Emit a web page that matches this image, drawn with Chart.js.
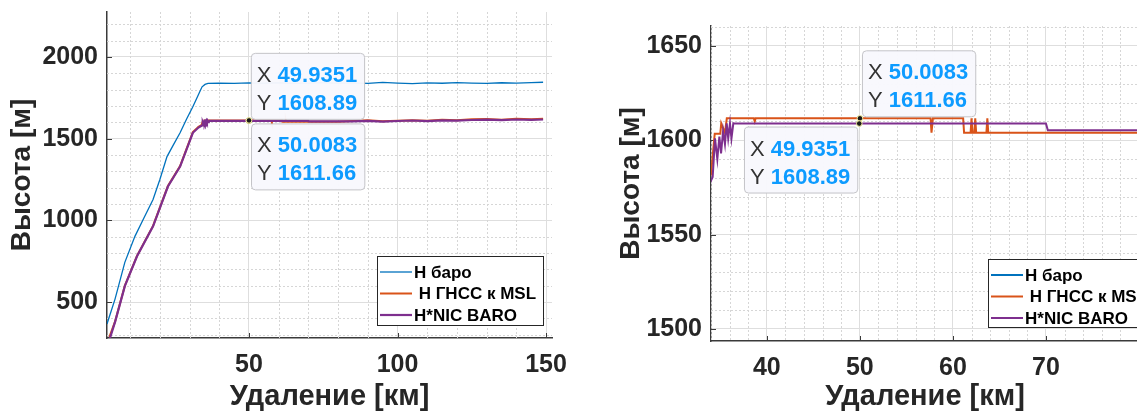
<!DOCTYPE html>
<html>
<head>
<meta charset="utf-8">
<script src="https://cdn.jsdelivr.net/npm/chart.js@4.4.0/dist/chart.umd.min.js"></script>
<style>
  html, body { margin: 0; padding: 0; background: #fff; overflow: hidden; width: 1137px; height: 414px; }
  .wrap { position: absolute; top: 0; height: 414px; }
  #leftWrap { left: 0; width: 575px; }
  #rightWrap { left: 600px; width: 560px; }
</style>
</head>
<body>
<div class="wrap" id="leftWrap"><canvas id="leftChart" width="575" height="414"></canvas></div>
<div class="wrap" id="rightWrap"><canvas id="rightChart" width="560" height="414"></canvas></div>
<script>
// --- data ---
const seriesLabels = ['H баро', ' H ГНСС к MSL', 'H*NIC BARO'];

const baroDist = [2.2, 4.9, 8.2, 11.6, 14.5, 17.7, 20, 22.4, 24.5, 26.8, 29, 31.1, 33, 34.2, 35.2, 36.2, 40, 45, 50, 55, 60, 65, 70, 75, 80, 85, 90, 95, 100, 105, 110, 115, 120, 125, 130, 135, 140, 145, 149];
const baroAlt = [366, 518, 743, 902, 1010, 1128, 1250, 1390, 1460, 1536, 1620, 1695, 1770, 1817, 1832, 1838, 1840, 1838, 1841, 1839, 1842, 1838, 1840, 1843, 1839, 1841, 1838, 1844, 1840, 1837, 1841, 1839, 1843, 1840, 1838, 1842, 1840, 1843, 1845];

const gnssDist = [3.0, 4.9, 8.2, 12.3, 17.7, 22.7, 26.8, 31.1, 33.0, 34.0, 34.4, 35.0, 35.1, 35.5, 35.7, 38.6, 38.7, 38.8, 57.6, 57.7, 57.85, 61.1, 61.2, 61.9, 62.0, 62.1, 62.3, 62.4, 62.5, 63.6, 63.7, 63.8, 80, 85, 90, 95, 100, 105, 110, 115, 120, 125, 130, 135, 140, 145, 149];
const gnssAlt = [285, 380, 600, 783, 966, 1210, 1332, 1540, 1572, 1582, 1603.5, 1603.5, 1609, 1604, 1611.66, 1611.66, 1610, 1611.66, 1611.66, 1604, 1611.66, 1611.66, 1604, 1604, 1611.66, 1604, 1604, 1611.66, 1604, 1604, 1611.66, 1604, 1604, 1608, 1612, 1606, 1610, 1613, 1609, 1615, 1612, 1618, 1620, 1616, 1622, 1619, 1621];

const nicDist = [3.2, 4.9, 8.2, 12.3, 17.7, 22.7, 26.8, 31.1, 33.0, 34.18, 34.43, 34.68, 34.9, 35.08, 35.3, 35.5, 35.69, 35.85, 36.04, 36.2, 36.4, 36.5, 70.0, 70.2, 80, 85, 90, 95, 100, 105, 110, 115, 120, 125, 130, 135, 140, 145, 149];
const nicAlt = [280, 377, 597, 780, 963, 1207, 1329, 1536, 1568, 1580.6, 1601, 1590, 1602, 1593, 1605, 1598, 1609, 1601, 1609, 1601, 1609, 1608.89, 1608.89, 1605.3, 1605.3, 1606, 1609, 1604, 1608, 1611, 1607, 1612, 1610, 1614, 1616, 1613, 1617, 1615, 1617];

const leftXTicks = [50, 100, 150];
const leftYTicks = [500, 1000, 1500, 2000];
const rightXTicks = [40, 50, 60, 70];
const rightYTicks = [1500, 1550, 1600, 1650];

const tipX = [49.9351, 50.0083];
const tipY = [1608.89, 1611.66];

// --- styles ---
const axisColor = '#262626';
const fontFamily = '"Liberation Sans", Arial, sans-serif';
const colors = ['#0072BD', '#D95319', '#7E2F8E'];

const toPoints = (xs, ys) => xs.map((x, i) => ({ x: x, y: ys[i] }));

const minorGrid = {
    id: 'minorGrid',
    beforeDatasetsDraw(chart, args, opts) {
        const { ctx, chartArea: a, scales: { x, y } } = chart;
        ctx.save();
        ctx.strokeStyle = '#d6d6d6';
        ctx.lineWidth = 1;
        ctx.setLineDash([2, 2]);
        ctx.beginPath();
        for (let i = Math.ceil(x.min / opts.xStep); i * opts.xStep <= x.max; i++) {
            if (i % opts.xEvery === 0) continue;
            const px = Math.round(x.getPixelForValue(i * opts.xStep)) + 0.5;
            ctx.moveTo(px, a.top);
            ctx.lineTo(px, a.bottom);
        }
        for (let i = Math.ceil(y.min / opts.yStep); i * opts.yStep <= y.max; i++) {
            if (i % opts.yEvery === 0) continue;
            const py = Math.round(y.getPixelForValue(i * opts.yStep)) + 0.5;
            ctx.moveTo(a.left, py);
            ctx.lineTo(a.right, py);
        }
        ctx.stroke();
        // short inward tick marks at the major ticks
        ctx.setLineDash([]);
        ctx.strokeStyle = '#3a3a3a';
        ctx.beginPath();
        x.ticks.forEach(t => {
            const px = Math.round(x.getPixelForValue(t.value)) + 0.5;
            ctx.moveTo(px, a.bottom);
            ctx.lineTo(px, a.bottom - 5);
        });
        y.ticks.forEach(t => {
            const py = Math.round(y.getPixelForValue(t.value)) + 0.5;
            ctx.moveTo(a.left, py);
            ctx.lineTo(a.left + 5, py);
        });
        ctx.stroke();
        ctx.restore();
    }
};

const boxLegend = {
    id: 'boxLegend',
    afterDatasetsDraw(chart, args, opts) {
        const { ctx } = chart;
        ctx.save();
        ctx.fillStyle = '#fff';
        ctx.fillRect(opts.x, opts.y, opts.w, opts.h);
        ctx.strokeStyle = axisColor;
        ctx.lineWidth = 1;
        ctx.strokeRect(opts.x + 0.5, opts.y + 0.5, opts.w, opts.h);
        ctx.font = 'bold 17px ' + fontFamily;
        ctx.textBaseline = 'middle';
        chart.data.datasets.forEach((ds, i) => {
            const ry = opts.y + 16 + i * 21.5;
            ctx.strokeStyle = ds.borderColor;
            ctx.lineWidth = ds.borderWidth;
            ctx.beginPath();
            ctx.moveTo(opts.x + 3, ry);
            ctx.lineTo(opts.x + 35, ry);
            ctx.stroke();
            ctx.fillStyle = '#000';
            ctx.fillText(ds.label, opts.x + 37, ry + 1);
        });
        ctx.restore();
    }
};

const dataTips = {
    id: 'dataTips',
    afterDatasetsDraw(chart, args, opts) {
        const { ctx, scales: { x, y } } = chart;
        ctx.save();
        const labelFont = '22px ' + fontFamily;
        const valueFont = 'bold 22px ' + fontFamily;
        opts.tips.forEach(t => {
            const ax = x.getPixelForValue(tipX[t.i]);
            const ay = y.getPixelForValue(tipY[t.i]);
            const lines = [['X ', String(tipX[t.i])], ['Y ', tipY[t.i].toFixed(2)]];
            let w = 0;
            lines.forEach(l => {
                ctx.font = labelFont;
                let lw = ctx.measureText(l[0]).width;
                ctx.font = valueFont;
                lw += ctx.measureText(l[1]).width;
                w = Math.max(w, lw);
            });
            w += 13;
            const h = 66;
            const bx = t.place.includes('e') ? ax + 2 : ax - 2 - w;
            const by = t.place.includes('n') ? ay - 2 - h : ay + 3;
            ctx.beginPath();
            ctx.roundRect(bx + 0.5, by + 0.5, w, h, 4);
            ctx.fillStyle = 'rgba(248,248,253,0.97)';
            ctx.fill();
            ctx.strokeStyle = '#c4c4c8';
            ctx.lineWidth = 1;
            ctx.stroke();
            ctx.textBaseline = 'alphabetic';
            lines.forEach((l, k) => {
                const ty = by + 29 + k * 28;
                ctx.font = labelFont;
                ctx.fillStyle = '#333';
                ctx.fillText(l[0], bx + 6, ty);
                const lw = ctx.measureText(l[0]).width;
                ctx.font = valueFont;
                ctx.fillStyle = '#0d9bff';
                ctx.fillText(l[1], bx + 6 + lw, ty);
            });
        });
        opts.tips.forEach(t => {
            const ax = x.getPixelForValue(tipX[t.i]);
            const ay = y.getPixelForValue(tipY[t.i]);
            ctx.beginPath();
            ctx.arc(ax, ay, 2.8, 0, Math.PI * 2);
            ctx.fillStyle = '#1a1a1a';
            ctx.fill();
            ctx.strokeStyle = '#f5f0a0';
            ctx.lineWidth = 1;
            ctx.stroke();
        });
        ctx.restore();
    }
};

const makeDatasets = (widths) => [
    { label: seriesLabels[0], data: toPoints(baroDist, baroAlt), borderColor: colors[0], borderWidth: widths[0], order: 2 },
    { label: seriesLabels[1], data: toPoints(gnssDist, gnssAlt), borderColor: colors[1], borderWidth: widths[1], order: 1 },
    { label: seriesLabels[2], data: toPoints(nicDist, nicAlt), borderColor: colors[2], borderWidth: widths[2], order: 0 }
];

const tickFont = { family: fontFamily, size: 25, weight: 'bold' };
const titleFont = { family: fontFamily, size: 29, weight: 'bold' };

const makeScales = (o) => ({
    x: {
        type: 'linear',
        min: o.xMin,
        max: o.xMax,
        afterFit: (s) => { s.height = o.xAxisH; s.paddingLeft = 0; s.paddingRight = 0; },
        afterBuildTicks: (s) => { s.ticks = o.xTicks.map(v => ({ value: v })); },
        ticks: { font: tickFont, color: axisColor, padding: 12, maxRotation: 0, callback: v => String(v) },
        grid: { color: '#dedede', lineWidth: 1, drawTicks: false },
        border: { color: '#3a3a3a', width: 1.5 },
        title: { display: true, text: 'Удаление [км]', font: titleFont, color: axisColor, padding: { top: 0, bottom: 0 } }
    },
    y: {
        type: 'linear',
        min: o.yMin,
        max: o.yMax,
        afterFit: (s) => { s.width = o.yAxisW; s.paddingTop = 0; s.paddingBottom = 0; },
        afterBuildTicks: (s) => { s.ticks = o.yTicks.map(v => ({ value: v })); },
        ticks: { font: tickFont, color: axisColor, padding: 9, callback: v => String(v) },
        grid: { color: '#dedede', lineWidth: 1, drawTicks: false },
        border: { color: '#3a3a3a', width: 1.5 },
        title: { display: true, text: 'Высота [м]', font: { family: fontFamily, size: 28, weight: 'bold' }, color: axisColor, padding: { top: o.yTitlePad, bottom: 0 } }
    }
});

const baseOptions = (o) => ({
    responsive: false,
    animation: false,
    events: [],
    layout: { padding: o.padding },
    elements: { point: { radius: 0 }, line: { tension: 0 } },
    scales: makeScales(o),
    plugins: {
        legend: { display: false },
        tooltip: { enabled: false },
        minorGrid: o.minor,
        boxLegend: o.legend,
        dataTips: { tips: o.tips }
    }
});

new Chart(document.getElementById('leftChart'), {
    type: 'line',
    data: { datasets: makeDatasets([1.3, 2, 2.2]) },
    options: baseOptions({
        xMin: 2.2, xMax: 152, yMin: 280, yMax: 2275,
        xTicks: leftXTicks, yTicks: leftYTicks,
        xAxisH: 76, yAxisW: 107, yTitlePad: 5,
        padding: { top: 12, right: 23, left: 0, bottom: 0 },
        minor: { xStep: 10, xEvery: 5, yStep: 100, yEvery: 5 },
        legend: { x: 377, y: 256, w: 166, h: 69 },
        tips: [{ i: 0, place: 'ne' }, { i: 1, place: 'se' }]
    }),
    plugins: [minorGrid, boxLegend, dataTips]
});

new Chart(document.getElementById('rightChart'), {
    type: 'line',
    data: { datasets: makeDatasets([2, 2, 2]) },
    options: baseOptions({
        xMin: 34, xMax: 80, yMin: 1493.6, yMax: 1660.6,
        xTicks: rightXTicks, yTicks: rightYTicks,
        xAxisH: 73, yAxisW: 111, yTitlePad: 14,
        padding: { top: 26, right: 21, left: 0, bottom: 0 },
        minor: { xStep: 2, xEvery: 5, yStep: 10, yEvery: 5 },
        legend: { x: 388, y: 259, w: 166, h: 68 },
        tips: [{ i: 1, place: 'ne' }, { i: 0, place: 'sw' }]
    }),
    plugins: [minorGrid, boxLegend, dataTips]
});
</script>
</body>
</html>
